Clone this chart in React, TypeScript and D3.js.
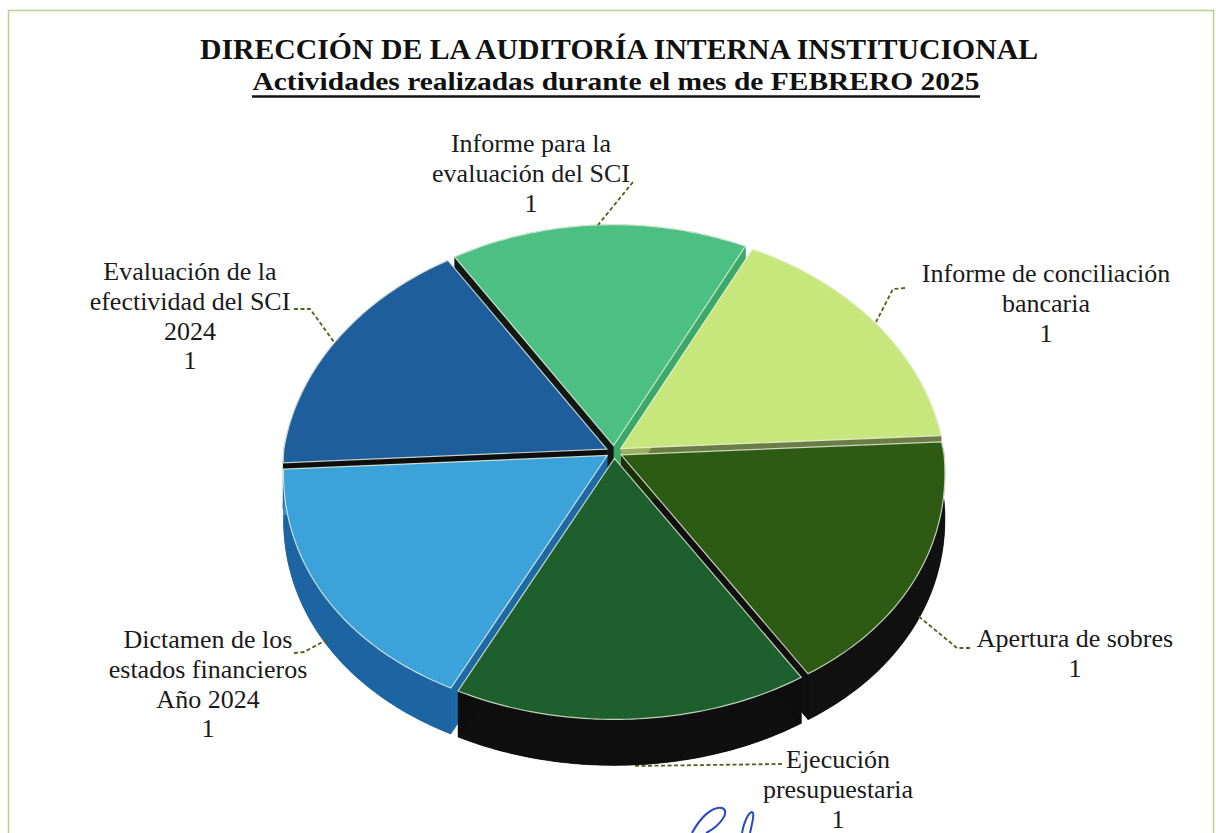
import * as d3 from "d3";

// Datos del gráfico
const categories = [
  "Informe para la\nevaluación del SCI",
  "Informe de conciliación\nbancaria",
  "Apertura de sobres",
  "Ejecución\npresupuestaria",
  "Dictamen de los\nestados financieros\nAño 2024",
  "Evaluación de la\nefectividad del SCI\n2024",
];
const values = [1, 1, 1, 1, 1, 1];

// Colores (cara superior, pared inicial, pared final, pared exterior)
const topColors = ["#4cbf82", "#c7e77d", "#2e5b14", "#1d5f2d", "#3ba2da", "#1f5e9c"];
const loWallColors = ["#3aa868", "#6c7c45", "#0f0f0f", "#0d0d0d", "#2e92d2", "#123c66"];
const hiWallColors = ["#121812", "#9ab060", "#1a3008", "#0d0d0d", "#1e6aa6", "#0e0e0e"];
const outerColors = ["#2a7f50", "#8aa050", "#111111", "#0f0f0f", "#1d65a2", "#153f6a"];

// Posición de etiquetas y líneas guía
const labelLayout = [
  { x: 531, y: 152, leader: [[633, 182], [598, 225]] },
  { x: 1046, y: 282, leader: [[905, 288], [893, 289], [876, 322]] },
  { x: 1075, y: 647, leader: [[970, 648], [957, 648], [917, 615]] },
  { x: 838, y: 768, leader: [[782, 764], [633, 766]] },
  { x: 208, y: 648, leader: [[294, 653], [304, 652], [330, 638]] },
  { x: 190, y: 280, leader: [[294, 309], [310, 309], [334, 342]] },
];

const W = 1216;
const H = 833;
const CX = 614;
const CY = 452;
const RX = 323;
const RY_BACK = 249;
const RY_FRONT = 261;
const K_BACK = 0.127;
const K_FRONT = 0.07;
const DEPTH = 46;
const EXP = 8;
const LINE_H = 29.8;

type Pt = [number, number];

// proyección con algo de perspectiva (mitad trasera más pequeña)
const P = (t: number, ox: number, oy: number, dz = 0): Pt => {
  const s = Math.sin(t);
  const c = Math.cos(t);
  if (s >= 0) {
    const f = 1 / (1 + K_BACK * s);
    return [CX + ox + RX * c * f, CY + oy - RY_BACK * s * f + dz];
  }
  const f = 1 / (1 + K_FRONT * s);
  return [CX + ox + RX * c * f, CY + oy - RY_FRONT * s + dz];
};

function arcPts(t0: number, t1: number, ox: number, oy: number, dz = 0): Pt[] {
  const n = 60;
  return d3.range(n + 1).map((i) => P(t0 + ((t1 - t0) * i) / n, ox, oy, dz));
}

const poly = (pts: Pt[]) => "M" + pts.map((p) => p[0].toFixed(2) + "," + p[1].toFixed(2)).join("L") + "Z";

export default function App() {
  const pie = d3
    .pie<number>()
    .value((d) => d)
    .sort(null)
    .startAngle((-33 * Math.PI) / 180)
    .endAngle(2 * Math.PI - (33 * Math.PI) / 180);

  const arcs = pie(values).map((d, i) => {
    const tHi = Math.PI / 2 - d.startAngle;
    const tLo = Math.PI / 2 - d.endAngle;
    const tm = (tHi + tLo) / 2;
    const ox = EXP * Math.cos(tm);
    const oy = -EXP * 0.8 * Math.sin(tm);
    const c: Pt = [CX + ox, CY + oy];
    const cB: Pt = [c[0], c[1] + DEPTH];
    const topArc = arcPts(tHi, tLo, ox, oy);
    const botArc = arcPts(tHi, tLo, ox, oy, DEPTH);
    const pLo = P(tLo, ox, oy);
    const pHi = P(tHi, ox, oy);
    return {
      i,
      tm,
      top: poly([c, ...topArc]),
      bottom: poly([cB, ...botArc]),
      outer: poly([...topArc, ...botArc.slice().reverse()]),
      loWall: poly([c, pLo, [pLo[0], pLo[1] + DEPTH], cB]),
      hiWall: poly([c, pHi, [pHi[0], pHi[1] + DEPTH], cB]),
    };
  });

  const order = arcs.slice().sort((a, b) => Math.sin(b.tm) - Math.sin(a.tm));
  const leaderLine = d3.line<number[]>().x((p) => p[0]).y((p) => p[1]);

  return (
    <svg
      width={W}
      height={H}
      viewBox={`0 0 ${W} ${H}`}
      style={{ position: "absolute", left: 0, top: 0, background: "#fff" }}
      fontFamily="'Liberation Serif', 'Times New Roman', serif"
    >
      <rect x={0} y={0} width={W} height={H} fill="#fff" />
      {/* marco */}
      <path d={`M8.5,${H} V10.5 H1213.5 V${H}`} fill="none" stroke="#b7d08f" strokeWidth={1.5} />

      {/* títulos */}
      <text x={619} y={59} textAnchor="middle" fontSize={30} fontWeight="bold" fill="#111"
        textLength={838} lengthAdjust="spacingAndGlyphs">
        DIRECCIÓN DE LA AUDITORÍA INTERNA INSTITUCIONAL
      </text>
      <text x={616} y={90} textAnchor="middle" fontSize={26} fontWeight="bold" fill="#111"
        textLength={727} lengthAdjust="spacingAndGlyphs">
        Actividades realizadas durante el mes de FEBRERO 2025
      </text>
      <line x1={252} x2={980} y1={96.5} y2={96.5} stroke="#111" strokeWidth={2.4} />

      {/* pastel 3D */}
      {order.map((a) => (
        <g key={a.i}>
          <path d={a.bottom} fill={outerColors[a.i]} />
          <path d={a.outer} fill={outerColors[a.i]} stroke={outerColors[a.i]} strokeWidth={0.5} />
          <path d={a.loWall} fill={loWallColors[a.i]} />
          <path d={a.hiWall} fill={hiWallColors[a.i]} />
          <path d={a.top} fill={topColors[a.i]} stroke="#eef5e2" strokeOpacity={0.8} strokeWidth={1.2} />
        </g>
      ))}

      {/* líneas guía */}
      {labelLayout.map((l, i) => (
        <path key={"l" + i} d={leaderLine(l.leader) || ""} fill="none" stroke="#4f611f"
          strokeWidth={1.8} strokeDasharray="4 2.5" />
      ))}

      {/* etiquetas */}
      {categories.map((c, i) => {
        const lines = [...c.split("\n"), String(values[i])];
        const l = labelLayout[i];
        return (
          <text key={"t" + i} x={l.x} y={l.y} textAnchor="middle" fontSize={26} fill="#1a1a1a">
            {lines.map((s, j) => (
              <tspan key={j} x={l.x} y={l.y + j * LINE_H}>{s}</tspan>
            ))}
          </text>
        );
      })}

      {/* firma */}
      <path d="M692,833 C700,818 712,806 722,808 C731,811 720,826 706,833" fill="none" stroke="#2a48c0" strokeWidth={2} />
      <path d="M742,833 C744,822 748,813 752,812 C755,812 752,824 750,833" fill="none" stroke="#2a48c0" strokeWidth={2} />
    </svg>
  );
}
